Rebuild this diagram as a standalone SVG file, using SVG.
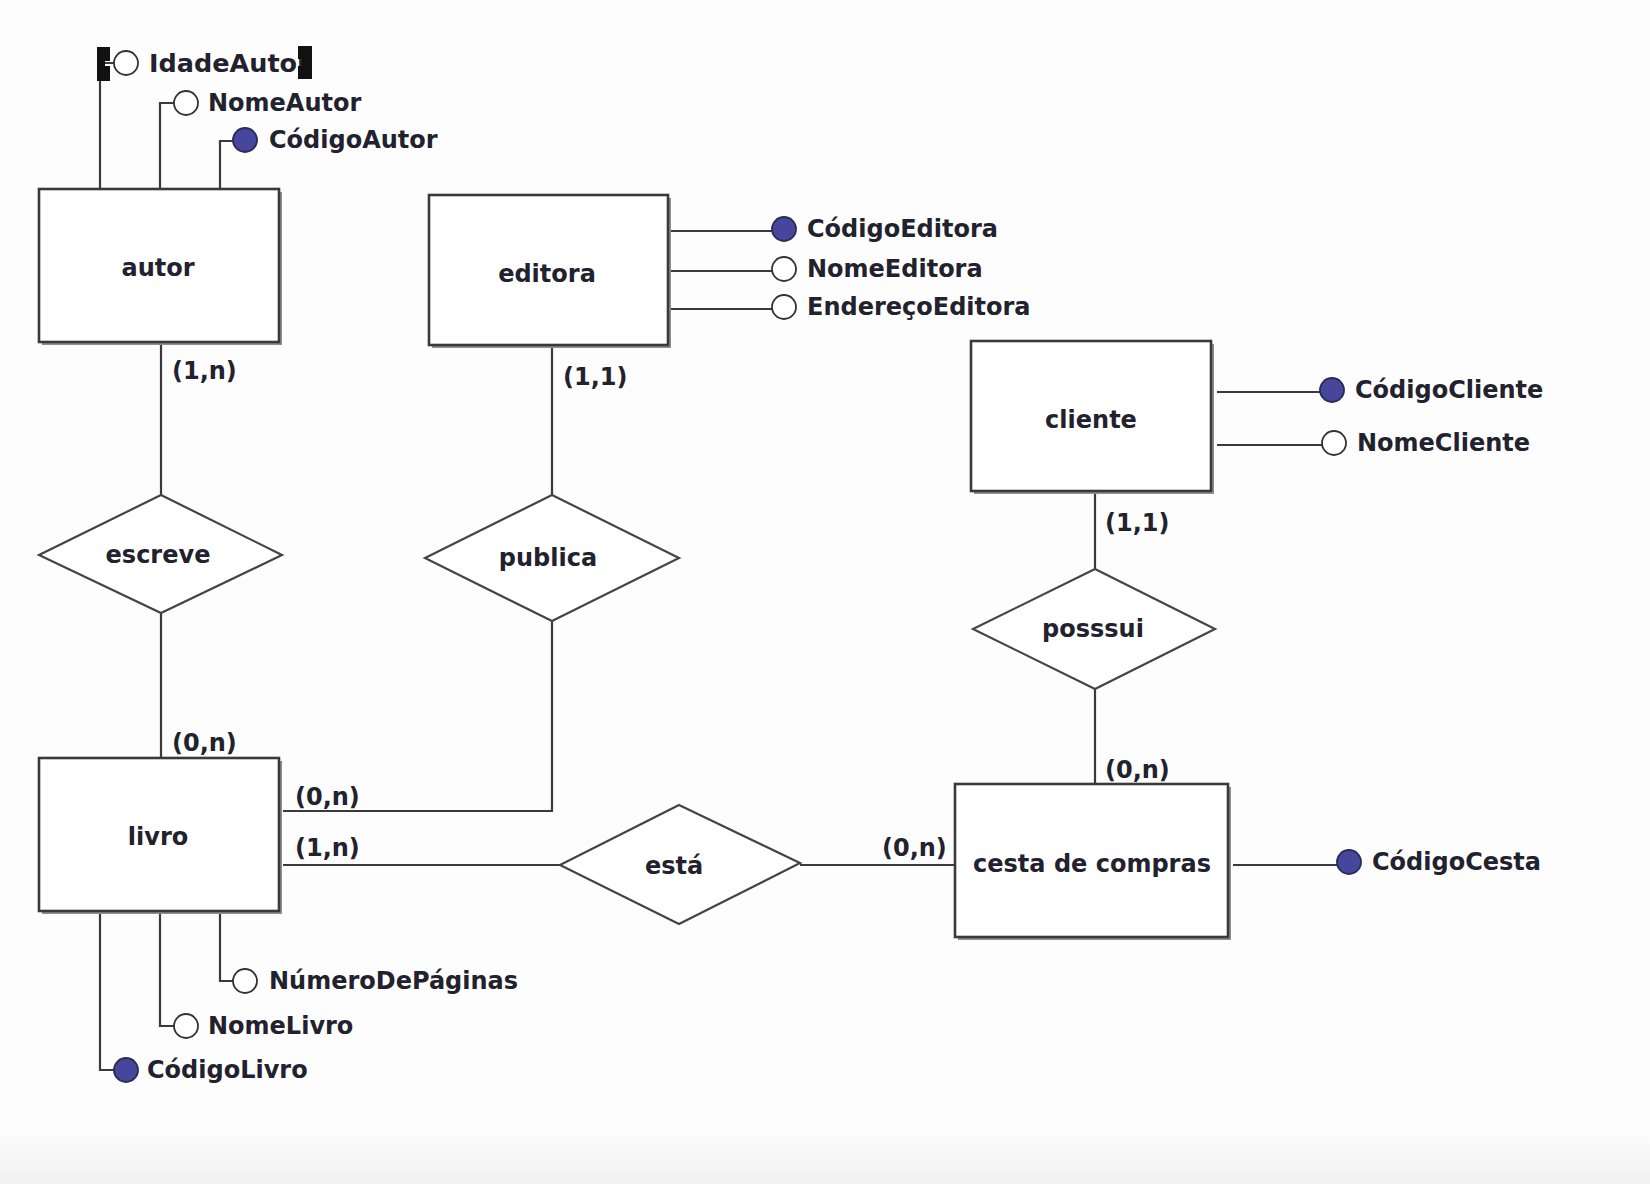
<svg xmlns="http://www.w3.org/2000/svg" width="1650" height="1184" viewBox="0 0 1650 1184">
  <style>
    text { font-family: "DejaVu Sans", "Liberation Sans", sans-serif; font-weight: bold; font-size: 24px; fill: #22222e; }
    .lbl { text-anchor: middle; }
    .box { fill: #ffffff; stroke: #3a3a3a; stroke-width: 2.6; }
    .shadow { fill: #8f8f8f; }
    .rel { fill: #ffffff; stroke: #444444; stroke-width: 2.2; }
    .wire { fill: none; stroke: #3a3a3a; stroke-width: 2.2; }
    .attr { fill: #ffffff; stroke: #333333; stroke-width: 1.8; }
    .key { fill: #46469c; stroke: #2a2a55; stroke-width: 1.8; }
    .handle { fill: #111111; }
  </style>
  <defs>
    <linearGradient id="floor" x1="0" y1="0" x2="0" y2="1">
      <stop offset="0" stop-color="#fcfcfc"/>
      <stop offset="1" stop-color="#f0f0f0"/>
    </linearGradient>
  </defs>

  <rect width="1650" height="1184" fill="#fdfdfd"/>
  <rect y="1135" width="1650" height="49" fill="url(#floor)"/>

  <!-- connectors -->
  <g id="connectors">
    <!-- relationship lines -->
    <path class="wire" d="M161 342 V495"/>
    <path class="wire" d="M161 613 V758"/>
    <path class="wire" d="M552 345 V495"/>
    <path class="wire" d="M552 621 V811 H283"/>
    <path class="wire" d="M283 865 H560"/>
    <path class="wire" d="M800 865 H955"/>
    <path class="wire" d="M1095 491 V569"/>
    <path class="wire" d="M1095 689 V784"/>
    <!-- attribute lines -->
    <path class="wire" d="M100 189 V63 H114"/>
    <path class="wire" d="M160 189 V103 H174"/>
    <path class="wire" d="M220 189 V141 H233"/>
    <path class="wire" d="M671 231 H772"/>
    <path class="wire" d="M671 271 H772"/>
    <path class="wire" d="M671 309 H772"/>
    <path class="wire" d="M1217 392 H1320"/>
    <path class="wire" d="M1217 445 H1322"/>
    <path class="wire" d="M1233 865 H1337"/>
    <path class="wire" d="M220 911 V981 H233"/>
    <path class="wire" d="M160 911 V1026 H174"/>
    <path class="wire" d="M100 911 V1070 H114"/>
    <!-- cardinalities -->
    <text x="172" y="379">(1,n)</text>
    <text x="172" y="751">(0,n)</text>
    <text x="563" y="385">(1,1)</text>
    <text x="295" y="805">(0,n)</text>
    <text x="295" y="856">(1,n)</text>
    <text x="882" y="856">(0,n)</text>
    <text x="1105" y="531">(1,1)</text>
    <text x="1105" y="778">(0,n)</text>
  </g>

  <!-- entities -->
  <g id="autor">
    <rect class="shadow" x="42" y="192" width="240" height="153"/>
    <rect class="box" x="39" y="189" width="240" height="153"/>
    <text class="lbl" x="158" y="276">autor</text>
  </g>
  <g id="editora">
    <rect class="shadow" x="432" y="198" width="239" height="150"/>
    <rect class="box" x="429" y="195" width="239" height="150"/>
    <text class="lbl" x="547" y="282">editora</text>
  </g>
  <g id="cliente">
    <rect class="shadow" x="974" y="344" width="240" height="150"/>
    <rect class="box" x="971" y="341" width="240" height="150"/>
    <text class="lbl" x="1091" y="428">cliente</text>
  </g>
  <g id="livro">
    <rect class="shadow" x="42" y="761" width="240" height="153"/>
    <rect class="box" x="39" y="758" width="240" height="153"/>
    <text class="lbl" x="158" y="845">livro</text>
  </g>
  <g id="cesta">
    <rect class="shadow" x="958" y="787" width="273" height="153"/>
    <rect class="box" x="955" y="784" width="273" height="153"/>
    <text class="lbl" x="1092" y="872">cesta de compras</text>
  </g>

  <!-- relationships -->
  <g id="escreve">
    <polygon class="rel" points="161,495 282,555 161,613 39,555"/>
    <text class="lbl" x="158" y="563">escreve</text>
  </g>
  <g id="publica">
    <polygon class="rel" points="552,495 679,558 552,621 425,558"/>
    <text class="lbl" x="548" y="566">publica</text>
  </g>
  <g id="posssui">
    <polygon class="rel" points="1095,569 1215,629 1095,689 973,629"/>
    <text class="lbl" x="1093" y="637">posssui</text>
  </g>
  <g id="esta">
    <polygon class="rel" points="679,805 800,863 679,924 560,865"/>
    <text class="lbl" x="674" y="874">está</text>
  </g>

  <!-- attributes of autor (IdadeAutor is shown selected, with handles) -->
  <g id="IdadeAutor">
    <path class="handle" d="M97 47 H110 V61 H105 V66 H110 V81 H97 Z"/>
    <circle class="attr" cx="126" cy="63" r="12"/>
    <text x="149" y="72" style="font-size:25.5px">IdadeAutor</text>
    <path class="handle" d="M298 46 H312 V79 H298 V66 H302 V59 H298 Z"/>
  </g>
  <g id="NomeAutor">
    <circle class="attr" cx="186" cy="103" r="12"/>
    <text x="208" y="111">NomeAutor</text>
  </g>
  <g id="CodigoAutor">
    <circle class="key" cx="245" cy="140" r="12"/>
    <text x="269" y="148">CódigoAutor</text>
  </g>

  <!-- attributes of editora -->
  <g id="CodigoEditora">
    <circle class="key" cx="784" cy="229" r="12"/>
    <text x="807" y="237">CódigoEditora</text>
  </g>
  <g id="NomeEditora">
    <circle class="attr" cx="784" cy="269" r="12"/>
    <text x="807" y="277">NomeEditora</text>
  </g>
  <g id="EnderecoEditora">
    <circle class="attr" cx="784" cy="307" r="12"/>
    <text x="807" y="315">EndereçoEditora</text>
  </g>

  <!-- attributes of cliente -->
  <g id="CodigoCliente">
    <circle class="key" cx="1332" cy="390" r="12"/>
    <text x="1355" y="398">CódigoCliente</text>
  </g>
  <g id="NomeCliente">
    <circle class="attr" cx="1334" cy="443" r="12"/>
    <text x="1357" y="451">NomeCliente</text>
  </g>

  <!-- attribute of cesta de compras -->
  <g id="CodigoCesta">
    <circle class="key" cx="1349" cy="862" r="12"/>
    <text x="1372" y="870">CódigoCesta</text>
  </g>

  <!-- attributes of livro -->
  <g id="NumeroDePaginas">
    <circle class="attr" cx="245" cy="981" r="12"/>
    <text x="269" y="989">NúmeroDePáginas</text>
  </g>
  <g id="NomeLivro">
    <circle class="attr" cx="186" cy="1026" r="12"/>
    <text x="208" y="1034">NomeLivro</text>
  </g>
  <g id="CodigoLivro">
    <circle class="key" cx="126" cy="1070" r="12"/>
    <text x="147" y="1078">CódigoLivro</text>
  </g>
</svg>
